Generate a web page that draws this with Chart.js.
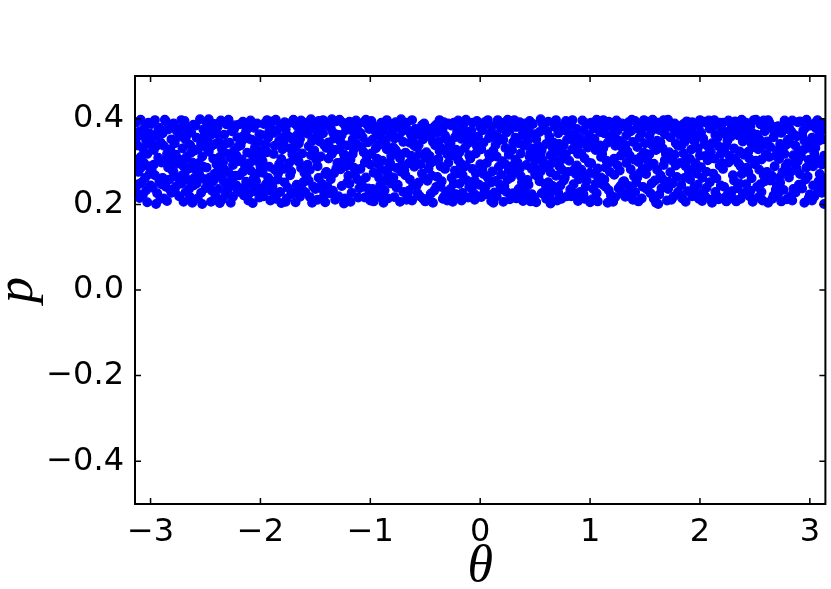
<!DOCTYPE html>
<html>
<head>
<meta charset="utf-8">
<script src="https://cdn.jsdelivr.net/npm/chart.js@4"></script>
<style>
  html, body { margin: 0; padding: 0; background: #fff; }
  #plot { display: block; }
</style>
</head>
<body>
<canvas id="plot" width="831" height="589"></canvas>
<script>
// ===== Dados (theta, p), por faixa de theta =====
const orbitA = [ // -pi .. -2
  [-3.13,.392],[-3.12,.301],[-3.11,.247],[-3.13,.355],[-3.10,.215],[-3.12,.338],[-3.11,.276],[-3.13,.229],[-3.10,.371],
  [-3.09,.398],[-3.05,.382],[-3.02,.391],[-3.08,.362],[-3.04,.349],[-3.01,.366],[-3.07,.331],[-3.03,.318],[-3.00,.340],[-3.06,.297],[-3.09,.285],[-3.02,.289],[-3.05,.262],[-3.08,.251],[-3.01,.271],[-3.04,.233],[-3.07,.222],[-3.03,.205],[-3.00,.244],[-3.06,.372],[-3.09,.311],
  [-2.99,.388],[-2.96,.397],[-2.92,.379],[-2.98,.356],[-2.94,.364],[-2.91,.345],[-2.97,.327],[-2.93,.309],[-2.95,.336],[-2.90,.298],[-2.99,.281],[-2.96,.268],[-2.92,.254],[-2.98,.239],[-2.94,.226],[-2.91,.213],[-2.95,.201],[-2.97,.293],[-2.93,.372],[-2.90,.247],
  [-2.89,.366],[-2.86,.394],[-2.83,.384],[-2.81,.352],[-2.88,.337],[-2.85,.318],[-2.82,.329],[-2.87,.302],[-2.84,.286],[-2.80,.279],[-2.89,.262],[-2.86,.241],[-2.83,.258],[-2.81,.227],[-2.88,.214],[-2.85,.208],[-2.82,.234],[-2.84,.375],[-2.87,.398],[-2.80,.311],[-2.83,.296],
  [-2.79,.389],[-2.76,.371],[-2.72,.397],[-2.78,.343],[-2.74,.358],[-2.71,.331],[-2.77,.316],[-2.73,.304],[-2.70,.289],[-2.79,.275],[-2.75,.262],[-2.72,.249],[-2.78,.231],[-2.74,.219],[-2.70,.206],[-2.76,.295],[-2.73,.377],[-2.71,.268],[-2.77,.242],
  [-2.69,.395],[-2.66,.381],[-2.63,.368],[-2.61,.386],[-2.68,.351],[-2.64,.339],[-2.60,.326],[-2.67,.312],[-2.62,.298],[-2.65,.284],[-2.69,.271],[-2.66,.257],[-2.61,.244],[-2.68,.229],[-2.64,.217],[-2.62,.204],[-2.67,.362],[-2.63,.321],[-2.60,.262],[-2.65,.236],[-2.69,.305],
  [-2.59,.384],[-2.55,.399],[-2.52,.375],[-2.58,.356],[-2.54,.343],[-2.51,.361],[-2.57,.329],[-2.53,.312],[-2.50,.334],[-2.56,.297],[-2.59,.281],[-2.52,.288],[-2.55,.266],[-2.58,.249],[-2.51,.259],[-2.54,.227],[-2.57,.214],[-2.53,.201],[-2.50,.238],[-2.56,.273],
  [-2.49,.392],[-2.46,.376],[-2.42,.388],[-2.48,.352],[-2.44,.364],[-2.41,.341],[-2.47,.323],[-2.43,.307],[-2.45,.335],[-2.40,.294],[-2.49,.286],[-2.46,.263],[-2.42,.271],[-2.48,.246],[-2.44,.232],[-2.41,.219],[-2.45,.206],[-2.47,.399],[-2.43,.254],[-2.40,.366],
  [-2.39,.381],[-2.36,.396],[-2.33,.363],[-2.31,.387],[-2.38,.346],[-2.35,.329],[-2.32,.341],[-2.37,.311],[-2.34,.298],[-2.30,.318],[-2.39,.277],[-2.36,.264],[-2.33,.282],[-2.31,.248],[-2.38,.236],[-2.35,.211],[-2.32,.222],[-2.37,.203],[-2.34,.256],[-2.30,.235],
  [-2.29,.398],[-2.26,.371],[-2.23,.385],[-2.21,.357],[-2.28,.344],[-2.24,.326],[-2.27,.309],[-2.22,.315],[-2.25,.292],[-2.20,.301],[-2.29,.274],[-2.26,.259],[-2.23,.267],[-2.28,.241],[-2.21,.229],[-2.25,.218],[-2.27,.204],[-2.22,.245],[-2.24,.376],[-2.20,.336],
  [-2.19,.387],[-2.16,.393],[-2.13,.372],[-2.11,.354],[-2.18,.338],[-2.15,.361],[-2.12,.321],[-2.17,.305],[-2.14,.289],[-2.10,.296],[-2.19,.268],[-2.16,.276],[-2.13,.253],[-2.18,.234],[-2.15,.221],[-2.11,.209],[-2.14,.241],[-2.17,.348],[-2.12,.381],[-2.10,.226],
  [-2.09,.396],[-2.06,.379],[-2.03,.389],[-2.01,.364],[-2.08,.351],[-2.05,.333],[-2.02,.346],[-2.07,.314],[-2.04,.302],[-2.00,.288],[-2.09,.279],[-2.06,.261],[-2.03,.272],[-2.08,.247],[-2.05,.231],[-2.01,.216],[-2.07,.203],[-2.04,.254],[-2.02,.325],[-2.00,.237]
];

const orbitB = [ // -2 .. -1
  [-1.99,.312],[-1.97,.388],[-1.95,.247],[-1.93,.356],[-1.91,.209],[-1.98,.274],[-1.96,.331],[-1.94,.397],[-1.92,.288],[-1.90,.231],[-1.99,.362],[-1.97,.219],[-1.95,.341],[-1.93,.262],[-1.91,.379],[-1.98,.301],[-1.96,.236],[-1.94,.322],[-1.92,.371],[-1.90,.254],
  [-1.89,.394],[-1.87,.281],[-1.85,.226],[-1.83,.349],[-1.81,.306],[-1.88,.367],[-1.86,.213],[-1.84,.258],[-1.82,.384],[-1.80,.329],[-1.89,.241],[-1.87,.337],[-1.85,.372],[-1.83,.294],[-1.81,.203],[-1.88,.318],[-1.86,.398],[-1.84,.272],[-1.82,.229],[-1.80,.356],
  [-1.79,.343],[-1.77,.206],[-1.75,.389],[-1.73,.268],[-1.71,.317],[-1.78,.251],[-1.76,.362],[-1.74,.296],[-1.72,.224],[-1.70,.398],[-1.79,.283],[-1.77,.375],[-1.75,.239],[-1.73,.331],[-1.71,.352],[-1.78,.392],[-1.76,.214],[-1.74,.358],[-1.72,.277],[-1.70,.305],
  [-1.69,.228],[-1.67,.361],[-1.65,.299],[-1.63,.396],[-1.61,.252],[-1.68,.333],[-1.66,.381],[-1.64,.218],[-1.62,.319],[-1.60,.274],[-1.69,.389],[-1.67,.246],[-1.65,.342],[-1.63,.285],[-1.61,.369],[-1.68,.205],[-1.66,.311],[-1.64,.353],[-1.62,.234],[-1.60,.377],
  [-1.59,.371],[-1.57,.293],[-1.55,.217],[-1.53,.348],[-1.51,.386],[-1.58,.264],[-1.56,.336],[-1.54,.399],[-1.52,.242],[-1.50,.309],[-1.59,.228],[-1.57,.365],[-1.55,.281],[-1.53,.204],[-1.51,.326],[-1.58,.391],[-1.56,.255],[-1.54,.315],[-1.52,.378],[-1.50,.236],
  [-1.49,.304],[-1.47,.395],[-1.45,.238],[-1.43,.366],[-1.41,.271],[-1.48,.211],[-1.46,.347],[-1.44,.383],[-1.42,.223],[-1.40,.332],[-1.49,.359],[-1.47,.262],[-1.45,.312],[-1.43,.397],[-1.41,.205],[-1.48,.289],[-1.46,.374],[-1.44,.248],[-1.42,.339],[-1.40,.276],
  [-1.39,.387],[-1.37,.226],[-1.35,.318],[-1.33,.273],[-1.31,.394],[-1.38,.345],[-1.36,.259],[-1.34,.368],[-1.32,.211],[-1.30,.297],[-1.39,.241],[-1.37,.333],[-1.35,.399],[-1.33,.354],[-1.31,.284],[-1.38,.307],[-1.36,.379],[-1.34,.232],[-1.32,.327],[-1.30,.363],
  [-1.29,.356],[-1.27,.282],[-1.25,.391],[-1.23,.214],[-1.21,.338],[-1.28,.398],[-1.26,.243],[-1.24,.317],[-1.22,.374],[-1.20,.267],[-1.29,.219],[-1.27,.346],[-1.25,.301],[-1.23,.385],[-1.21,.252],[-1.28,.329],[-1.26,.362],[-1.24,.202],[-1.22,.289],[-1.20,.391],
  [-1.19,.248],[-1.17,.373],[-1.15,.329],[-1.13,.396],[-1.11,.216],[-1.18,.305],[-1.16,.352],[-1.14,.271],[-1.12,.383],[-1.10,.238],[-1.19,.393],[-1.17,.227],[-1.15,.286],[-1.13,.341],[-1.11,.364],[-1.18,.206],[-1.16,.318],[-1.14,.389],[-1.12,.259],[-1.10,.335],
  [-1.09,.367],[-1.07,.241],[-1.05,.298],[-1.03,.387],[-1.01,.223],[-1.08,.334],[-1.06,.392],[-1.04,.263],[-1.02,.345],[-1.00,.209],[-1.09,.283],[-1.07,.357],[-1.05,.216],[-1.03,.311],[-1.01,.376],[-1.08,.252],[-1.06,.322],[-1.04,.398],[-1.02,.237],[-1.00,.293]
];

const orbitC = [ // -1 .. 0
  [-0.99,.395],[-0.97,.274],[-0.95,.331],[-0.93,.218],[-0.91,.359],[-0.98,.236],[-0.96,.382],[-0.94,.307],[-0.92,.262],[-0.90,.391],[-0.99,.319],[-0.97,.207],[-0.95,.369],[-0.93,.294],[-0.91,.244],[-0.98,.351],[-0.96,.228],[-0.94,.378],[-0.92,.339],[-0.90,.281],
  [-0.89,.226],[-0.87,.349],[-0.85,.397],[-0.83,.286],[-0.81,.313],[-0.88,.372],[-0.86,.255],[-0.84,.214],[-0.82,.361],[-0.80,.388],[-0.89,.302],[-0.87,.233],[-0.85,.329],[-0.83,.384],[-0.81,.249],[-0.88,.204],[-0.86,.343],[-0.84,.271],[-0.82,.297],[-0.80,.366],
  [-0.79,.333],[-0.77,.392],[-0.75,.246],[-0.73,.308],[-0.71,.371],[-0.78,.217],[-0.76,.285],[-0.74,.357],[-0.72,.399],[-0.70,.229],[-0.79,.263],[-0.77,.327],[-0.75,.381],[-0.73,.206],[-0.71,.292],[-0.78,.354],[-0.76,.239],[-0.74,.318],[-0.72,.276],[-0.70,.346],
  [-0.69,.386],[-0.67,.211],[-0.65,.296],[-0.63,.363],[-0.61,.244],[-0.68,.321],[-0.66,.374],[-0.64,.258],[-0.62,.209],[-0.60,.337],[-0.69,.279],[-0.67,.391],[-0.65,.232],[-0.63,.314],[-0.61,.356],[-0.68,.268],[-0.66,.223],[-0.64,.344],[-0.62,.397],[-0.60,.288],
  [-0.59,.302],[-0.57,.367],[-0.55,.219],[-0.53,.385],[-0.51,.261],[-0.58,.243],[-0.56,.339],[-0.54,.294],[-0.52,.352],[-0.50,.207],[-0.59,.376],[-0.57,.226],[-0.55,.318],[-0.53,.272],[-0.51,.389],[-0.58,.334],[-0.56,.251],[-0.54,.362],[-0.52,.213],[-0.50,.309],
  [-0.49,.371],[-0.47,.284],[-0.45,.225],[-0.43,.346],[-0.41,.302],[-0.48,.213],[-0.46,.359],[-0.44,.267],[-0.42,.381],[-0.40,.241],[-0.49,.322],[-0.47,.377],[-0.45,.297],[-0.43,.204],[-0.41,.338],[-0.48,.255],[-0.46,.313],[-0.44,.364],[-0.42,.232],[-0.40,.386],
  [-0.39,.264],[-0.37,.397],[-0.35,.331],[-0.33,.218],[-0.31,.352],[-0.38,.306],[-0.36,.241],[-0.34,.378],[-0.32,.283],[-0.30,.209],[-0.39,.368],[-0.37,.325],[-0.35,.254],[-0.33,.392],[-0.31,.229],[-0.38,.347],[-0.36,.289],[-0.34,.213],[-0.32,.361],[-0.30,.317],
  [-0.29,.389],[-0.27,.236],[-0.25,.314],[-0.23,.357],[-0.21,.272],[-0.28,.221],[-0.26,.384],[-0.24,.249],[-0.22,.328],[-0.20,.396],[-0.29,.297],[-0.27,.342],[-0.25,.206],[-0.23,.279],[-0.21,.369],[-0.28,.335],[-0.26,.262],[-0.24,.391],[-0.22,.224],[-0.20,.303],
  [-0.19,.248],[-0.17,.353],[-0.15,.389],[-0.13,.291],[-0.11,.216],[-0.18,.376],[-0.16,.268],[-0.14,.332],[-0.12,.362],[-0.10,.241],[-0.19,.321],[-0.17,.209],[-0.15,.287],[-0.13,.398],[-0.11,.343],[-0.18,.296],[-0.16,.227],[-0.14,.373],[-0.12,.256],[-0.10,.315],
  [-0.09,.364],[-0.07,.283],[-0.05,.211],[-0.03,.395],[-0.01,.328],[-0.08,.238],[-0.06,.347],[-0.04,.273],[-0.02,.219],[0.00,.381],[-0.09,.307],[-0.07,.391],[-0.05,.256],[-0.03,.336],[-0.01,.246],[-0.08,.372],[-0.06,.226],[-0.04,.319],[-0.02,.358],[0.00,.294]
];

const orbitD = [ // 0 .. 1
  [0.01,.217],[0.03,.344],[0.05,.386],[0.07,.262],[0.09,.309],[0.02,.373],[0.04,.233],[0.06,.297],[0.08,.355],[0.10,.208],[0.01,.329],[0.03,.271],[0.05,.242],[0.07,.397],[0.09,.366],[0.02,.285],[0.04,.392],[0.06,.224],[0.08,.317],[0.10,.251],
  [0.11,.383],[0.13,.228],[0.15,.312],[0.17,.356],[0.19,.269],[0.12,.204],[0.14,.339],[0.16,.397],[0.18,.246],[0.20,.301],[0.11,.277],[0.13,.364],[0.15,.219],[0.17,.288],[0.19,.378],[0.12,.326],[0.14,.255],[0.16,.348],[0.18,.391],[0.20,.235],
  [0.21,.351],[0.23,.294],[0.25,.398],[0.27,.212],[0.29,.327],[0.22,.243],[0.24,.368],[0.26,.279],[0.28,.385],[0.30,.226],[0.21,.206],[0.23,.332],[0.25,.258],[0.27,.374],[0.29,.289],[0.22,.391],[0.24,.229],[0.26,.316],[0.28,.263],[0.30,.345],
  [0.31,.274],[0.33,.381],[0.35,.236],[0.37,.319],[0.39,.208],[0.32,.356],[0.34,.298],[0.36,.392],[0.38,.251],[0.40,.337],[0.31,.397],[0.33,.214],[0.35,.343],[0.37,.266],[0.39,.372],[0.32,.305],[0.34,.229],[0.36,.284],[0.38,.361],[0.40,.221],
  [0.41,.389],[0.43,.257],[0.45,.311],[0.47,.224],[0.49,.364],[0.42,.292],[0.44,.376],[0.46,.207],[0.48,.331],[0.50,.269],[0.41,.239],[0.43,.348],[0.45,.395],[0.47,.283],[0.49,.216],[0.42,.359],[0.44,.246],[0.46,.322],[0.48,.388],[0.50,.301],
  [0.51,.205],[0.53,.336],[0.55,.277],[0.57,.387],[0.59,.248],[0.52,.313],[0.54,.369],[0.56,.226],[0.58,.294],[0.60,.341],[0.51,.352],[0.53,.264],[0.55,.399],[0.57,.303],[0.59,.232],[0.52,.281],[0.54,.254],[0.56,.327],[0.58,.378],[0.60,.213],[0.55,.318],
  [0.61,.371],[0.63,.221],[0.65,.296],[0.67,.344],[0.69,.267],[0.62,.393],[0.64,.315],[0.66,.243],[0.68,.381],[0.70,.209],[0.61,.286],[0.63,.358],[0.65,.234],[0.67,.308],[0.69,.397],[0.62,.252],[0.64,.275],[0.66,.332],[0.68,.299],[0.70,.324],[0.64,.202],
  [0.71,.228],[0.73,.322],[0.75,.384],[0.77,.262],[0.79,.351],[0.72,.289],[0.74,.213],[0.76,.337],[0.78,.395],[0.80,.276],[0.71,.366],[0.73,.244],[0.75,.306],[0.77,.373],[0.79,.219],[0.72,.341],[0.74,.282],[0.76,.256],[0.78,.317],[0.80,.387],
  [0.81,.302],[0.83,.392],[0.85,.247],[0.87,.361],[0.89,.208],[0.82,.235],[0.84,.329],[0.86,.283],[0.88,.376],[0.90,.259],[0.81,.384],[0.83,.219],[0.85,.348],[0.87,.271],[0.89,.318],[0.82,.363],[0.84,.397],[0.86,.226],[0.88,.291],[0.90,.339],
  [0.91,.354],[0.93,.268],[0.95,.213],[0.97,.386],[0.99,.297],[0.92,.319],[0.94,.374],[0.96,.241],[0.98,.333],[1.00,.205],[0.91,.229],[0.93,.396],[0.95,.308],[0.97,.256],[0.99,.362],[0.92,.281],[0.94,.224],[0.96,.347],[0.98,.389],[1.00,.274]
];

const orbitE = [ // 1 .. 2
  [1.01,.391],[1.03,.236],[1.05,.327],[1.07,.284],[1.09,.369],[1.02,.212],[1.04,.353],[1.06,.398],[1.08,.259],[1.10,.311],[1.01,.296],[1.03,.377],[1.05,.248],[1.07,.207],[1.09,.338],[1.02,.342],[1.04,.271],[1.06,.226],[1.08,.384],[1.10,.263],
  [1.11,.247],[1.13,.366],[1.15,.302],[1.17,.393],[1.19,.221],[1.12,.331],[1.14,.286],[1.16,.204],[1.18,.357],[1.20,.379],[1.11,.318],[1.13,.258],[1.15,.385],[1.17,.233],[1.19,.299],[1.12,.397],[1.14,.241],[1.16,.344],[1.18,.276],[1.20,.215],
  [1.21,.362],[1.23,.217],[1.25,.291],[1.27,.348],[1.29,.389],[1.22,.269],[1.24,.396],[1.26,.238],[1.28,.314],[1.30,.253],[1.21,.206],[1.23,.337],[1.25,.372],[1.27,.279],[1.29,.226],[1.22,.307],[1.24,.352],[1.26,.383],[1.28,.244],[1.30,.328],
  [1.31,.382],[1.33,.297],[1.35,.243],[1.37,.371],[1.39,.211],[1.32,.339],[1.34,.226],[1.36,.314],[1.38,.398],[1.40,.266],[1.31,.254],[1.33,.361],[1.35,.392],[1.37,.282],[1.39,.346],[1.32,.218],[1.34,.324],[1.36,.373],[1.38,.235],[1.40,.305],
  [1.41,.395],[1.43,.263],[1.45,.356],[1.47,.214],[1.49,.321],[1.42,.377],[1.44,.299],[1.46,.388],[1.48,.241],[1.50,.343],[1.41,.229],[1.43,.334],[1.45,.273],[1.47,.367],[1.49,.397],[1.42,.252],[1.44,.207],[1.46,.311],[1.48,.284],[1.50,.382],
  [1.51,.271],[1.53,.393],[1.55,.226],[1.57,.338],[1.59,.379],[1.52,.304],[1.54,.361],[1.56,.249],[1.58,.213],[1.60,.327],[1.51,.386],[1.53,.288],[1.55,.342],[1.57,.398],[1.59,.256],[1.52,.235],[1.54,.317],[1.56,.372],[1.58,.295],[1.60,.204],
  [1.61,.349],[1.63,.223],[1.65,.385],[1.67,.292],[1.69,.246],[1.62,.391],[1.64,.268],[1.66,.331],[1.68,.364],[1.70,.209],[1.61,.281],[1.63,.374],[1.65,.238],[1.67,.397],[1.69,.318],[1.62,.201],[1.64,.345],[1.66,.259],[1.68,.303],[1.70,.381],
  [1.71,.236],[1.73,.357],[1.75,.302],[1.77,.389],[1.79,.264],[1.72,.322],[1.74,.211],[1.76,.376],[1.78,.343],[1.80,.229],[1.71,.398],[1.73,.275],[1.75,.249],[1.77,.316],[1.79,.367],[1.72,.253],[1.74,.384],[1.76,.218],[1.78,.291],[1.80,.337],
  [1.81,.383],[1.83,.245],[1.85,.319],[1.87,.206],[1.89,.354],[1.82,.297],[1.84,.371],[1.86,.262],[1.88,.394],[1.90,.277],[1.81,.224],[1.83,.337],[1.85,.388],[1.87,.289],[1.89,.231],[1.82,.362],[1.84,.214],[1.86,.346],[1.88,.308],[1.90,.372],
  [1.91,.306],[1.93,.392],[1.95,.241],[1.97,.358],[1.99,.213],[1.92,.376],[1.94,.284],[1.96,.227],[1.98,.331],[2.00,.397],[1.91,.258],[1.93,.219],[1.95,.347],[1.97,.272],[1.99,.384],[1.92,.328],[1.94,.365],[1.96,.296],[1.98,.246],[2.00,.314]
];

const orbitF = [ // 2 .. pi
  [2.01,.368],[2.03,.229],[2.05,.313],[2.07,.389],[2.09,.252],[2.02,.208],[2.04,.341],[2.06,.276],[2.08,.396],[2.10,.322],[2.01,.287],[2.03,.354],[2.05,.218],[2.07,.303],[2.09,.377],[2.02,.262],[2.04,.393],[2.06,.239],[2.08,.333],[2.10,.211],
  [2.11,.343],[2.13,.397],[2.15,.261],[2.17,.212],[2.19,.318],[2.12,.382],[2.14,.229],[2.16,.356],[2.18,.291],[2.20,.374],[2.11,.204],[2.13,.307],[2.15,.388],[2.17,.336],[2.19,.244],[2.12,.272],[2.14,.362],[2.16,.218],[2.18,.391],[2.20,.297],
  [2.21,.391],[2.23,.216],[2.25,.349],[2.27,.372],[2.29,.231],[2.22,.326],[2.24,.207],[2.26,.396],[2.28,.303],[2.30,.268],[2.21,.283],[2.23,.364],[2.25,.222],[2.27,.313],[2.29,.385],[2.22,.241],[2.24,.337],[2.26,.298],[2.28,.358],[2.30,.214],
  [2.31,.256],[2.33,.379],[2.35,.296],[2.37,.213],[2.39,.347],[2.32,.394],[2.34,.238],[2.36,.324],[2.38,.271],[2.40,.386],[2.31,.331],[2.33,.207],[2.35,.361],[2.37,.289],[2.39,.226],[2.32,.308],[2.34,.375],[2.36,.249],[2.38,.398],[2.40,.316],
  [2.41,.372],[2.43,.286],[2.45,.219],[2.47,.341],[2.49,.397],[2.42,.247],[2.44,.323],[2.46,.383],[2.48,.206],[2.50,.294],[2.41,.226],[2.43,.358],[2.45,.307],[2.47,.261],[2.49,.334],[2.42,.391],[2.44,.275],[2.46,.232],[2.48,.366],[2.50,.348],
  [2.51,.302],[2.53,.216],[2.55,.387],[2.57,.337],[2.59,.254],[2.52,.363],[2.54,.281],[2.56,.229],[2.58,.396],[2.60,.317],[2.51,.398],[2.53,.329],[2.55,.247],[2.57,.209],[2.59,.371],[2.52,.241],[2.54,.352],[2.56,.305],[2.58,.268],[2.60,.381],
  [2.61,.347],[2.63,.392],[2.65,.268],[2.67,.221],[2.69,.313],[2.62,.204],[2.64,.334],[2.66,.376],[2.68,.289],[2.70,.243],[2.61,.276],[2.63,.311],[2.65,.384],[2.67,.357],[2.69,.234],[2.62,.397],[2.64,.256],[2.66,.213],[2.68,.366],[2.70,.326],
  [2.71,.383],[2.73,.251],[2.75,.328],[2.77,.396],[2.79,.212],[2.72,.306],[2.74,.367],[2.76,.234],[2.78,.289],[2.80,.351],[2.71,.223],[2.73,.341],[2.75,.275],[2.77,.318],[2.79,.389],[2.72,.262],[2.74,.207],[2.76,.374],[2.78,.338],[2.80,.296],
  [2.81,.263],[2.83,.371],[2.85,.315],[2.87,.228],[2.89,.392],[2.82,.344],[2.84,.209],[2.86,.297],[2.88,.359],[2.90,.246],[2.81,.381],[2.83,.277],[2.85,.236],[2.87,.337],[2.89,.301],[2.82,.219],[2.84,.396],[2.86,.362],[2.88,.284],[2.90,.323],
  [2.91,.394],[2.93,.237],[2.95,.349],[2.97,.286],[2.99,.215],[2.92,.312],[2.94,.373],[2.96,.258],[2.98,.332],[3.00,.387],[2.91,.271],[2.93,.362],[2.95,.204],[2.97,.398],[2.99,.304],[2.92,.246],[2.94,.327],[2.96,.379],[2.98,.265],[3.00,.223],
  [3.01,.343],[3.03,.289],[3.05,.391],[3.07,.227],[3.09,.366],[3.02,.209],[3.04,.319],[3.06,.377],[3.08,.254],[3.10,.297],[3.01,.384],[3.03,.244],[3.05,.332],[3.07,.397],[3.09,.271],[3.02,.356],[3.04,.218],[3.06,.305],[3.08,.348],[3.10,.236],
  [3.11,.389],[3.12,.262],[3.13,.314],[3.11,.227],[3.12,.352],[3.13,.201],[3.11,.293],[3.13,.376],[3.12,.241]
];

// Ticks dos eixos
const xTickValues = [-3, -2, -1, 0, 1, 2, 3];
const yTickValues = [-0.4, -0.2, 0.0, 0.2, 0.4];
const xLimits = [-Math.PI, Math.PI];
const yLimits = [-0.5, 0.5];

const MINUS = '\u2212';
const fmt = (v, digits) => {
  const s = Math.abs(v).toFixed(digits);
  return v < -1e-9 ? MINUS + s : s;
};

// Moldura estilo matplotlib com ticks para dentro
const framePlugin = {
  id: 'frame',
  afterDraw(chart) {
    const { ctx, chartArea: a, scales } = chart;
    const len = 6;
    ctx.save();
    ctx.strokeStyle = '#000';
    ctx.lineWidth = 1.5;
    ctx.beginPath();
    xTickValues.forEach(v => {
      const x = scales.x.getPixelForValue(v);
      ctx.moveTo(x, a.bottom); ctx.lineTo(x, a.bottom - len);
      ctx.moveTo(x, a.top); ctx.lineTo(x, a.top + len);
    });
    yTickValues.forEach(v => {
      const y = scales.y.getPixelForValue(v);
      ctx.moveTo(a.left, y); ctx.lineTo(a.left + len, y);
      ctx.moveTo(a.right, y); ctx.lineTo(a.right - len, y);
    });
    ctx.stroke();
    ctx.lineWidth = 2;
    ctx.strokeRect(a.left, a.top, a.right - a.left, a.bottom - a.top);
    ctx.restore();
  }
};

const allPoints = [...orbitA, ...orbitB, ...orbitC, ...orbitD, ...orbitE, ...orbitF]
  .map(([theta, p]) => ({ x: theta, y: p }));

new Chart(document.getElementById('plot'), {
  type: 'scatter',
  data: {
    datasets: [{
      data: allPoints,
      backgroundColor: '#0000ff',
      borderColor: '#0000ff',
      pointRadius: 4.3,
      pointBorderWidth: 1.3,
      pointHoverRadius: 4.3
    }]
  },
  options: {
    responsive: false,
    animation: false,
    devicePixelRatio: 1,
    layout: { padding: { top: 76, right: 2, left: 0, bottom: 0 } },
    plugins: { legend: { display: false }, tooltip: { enabled: false } },
    scales: {
      x: {
        type: 'linear',
        min: xLimits[0],
        max: xLimits[1],
        grid: { display: false, drawTicks: false },
        border: { display: false },
        afterBuildTicks: s => { s.ticks = xTickValues.map(v => ({ value: v })); },
        afterFit: s => { s.height = 85; },
        ticks: {
          color: '#000',
          padding: 9,
          maxRotation: 0,
          font: { family: 'DejaVu Sans', size: 32 },
          callback: v => fmt(v, 0)
        },
        title: {
          display: true,
          text: 'θ',
          color: '#000',
          padding: 0,
          font: { family: 'Liberation Serif', style: 'italic', size: 52, lineHeight: 0.85 }
        }
      },
      y: {
        type: 'linear',
        min: yLimits[0],
        max: yLimits[1],
        grid: { display: false, drawTicks: false },
        border: { display: false },
        afterBuildTicks: s => { s.ticks = yTickValues.map(v => ({ value: v })); },
        afterFit: s => { s.width = 135; },
        ticks: {
          color: '#000',
          padding: 11,
          font: { family: 'DejaVu Sans', size: 32 },
          callback: v => fmt(v, 1)
        },
        title: {
          display: true,
          text: 'p',
          color: '#000',
          padding: 0,
          font: { family: 'Liberation Serif', style: 'italic', size: 52, lineHeight: 0.7 }
        }
      }
    }
  },
  plugins: [framePlugin]
});
</script>
</body>
</html>
